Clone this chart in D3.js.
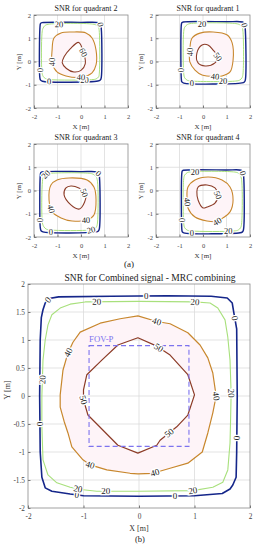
<!DOCTYPE html>
<html>
<head>
<meta charset="utf-8">
<script src="https://cdn.jsdelivr.net/npm/d3@7/dist/d3.min.js"></script>
<style>
  body { margin: 0; background: #fff; }
  text { font-family: "Liberation Serif", "Times New Roman", serif; }
</style>
</head>
<body>
<script>
// ---- tick values ----
var smallTicks = [-2, -1, 0, 1, 2];
var bigXTicks = [-2, -1, 0, 1, 2];
var bigYTicks = [-2, -1.5, -1, -0.5, 0, 0.5, 1, 1.5, 2];

// ---- quadrant 2 contours [x, y] in metres ----
var q2Zero = [[-1.66,1.67],[0.0,1.68],[0.74,1.67],[0.83,1.6],[0.86,1.45],[0.86,-0.7],[0.82,-0.8],[0.72,-0.84],[-1.64,-0.85],[-1.72,-0.8],[-1.75,-0.7],[-1.74,1.55],[-1.72,1.64]];
var q2Twenty = [[-1.4,1.6],[0.5,1.61],[0.66,1.56],[0.75,1.45],[0.78,1.25],[0.78,-0.5],[0.75,-0.66],[0.64,-0.75],[0.45,-0.78],[-1.3,-0.78],[-1.5,-0.74],[-1.61,-0.64],[-1.66,-0.45],[-1.66,1.2],[-1.62,1.42],[-1.54,1.54]];
var q2Forty = [[-1.23,0.49],[-1.15,1.01],[-0.85,1.23],[-0.38,1.27],[0.21,1.23],[0.47,1.01],[0.64,0.49],[0.64,-0.15],[0.47,-0.49],[0.04,-0.67],[-0.64,-0.62],[-1.02,-0.45],[-1.23,-0.06]];
var q2Inner = [[-0.1,0.82],[-0.45,0.55],[-0.72,0.2],[-0.8,-0.05],[-0.62,-0.3],[-0.3,-0.45],[0.0,-0.38],[0.18,-0.1],[0.12,0.35]];
var q2Labels = [[0,0.8,1.58],[0,-1.75,-0.37],[0,-1.36,-0.85],[20,-0.94,1.61],[20,0.15,-0.79],[40,0.0,-0.66],[40,-1.25,-0.02],[60,0.12,0.4]];

// ---- quadrant 1 ----
var q1Zero = [[-0.84,1.7],[1.0,1.71],[1.68,1.7],[1.76,1.64],[1.79,1.5],[1.8,-0.8],[1.76,-0.88],[1.66,-0.92],[-0.82,-0.93],[-0.9,-0.88],[-0.92,-0.78],[-0.92,1.6],[-0.9,1.67]];
var q1Twenty = [[-0.55,1.63],[1.4,1.63],[1.56,1.58],[1.66,1.48],[1.7,1.3],[1.7,-0.55],[1.66,-0.7],[1.56,-0.8],[1.4,-0.84],[-0.5,-0.84],[-0.68,-0.8],[-0.78,-0.7],[-0.82,-0.52],[-0.82,1.3],[-0.78,1.47],[-0.68,1.58]];
var q1Forty = [[-0.56,0.49],[-0.47,1.0],[-0.13,1.22],[0.43,1.27],[1.03,1.14],[1.24,0.8],[1.28,0.06],[1.15,-0.45],[0.81,-0.62],[0.51,-0.64],[-0.04,-0.58],[-0.34,-0.37],[-0.56,-0.02]];
var q1Inner = [[-0.04,0.71],[-0.26,0.36],[-0.21,-0.06],[0.09,-0.19],[0.51,-0.06],[0.64,0.19],[0.43,0.49],[0.21,0.71]];
var q1Labels = [[0,1.72,1.55],[0,-0.92,-0.37],[0,-0.47,-0.9],[20,-0.04,1.63],[20,0.85,-0.84],[40,0.51,-0.63],[40,-0.6,0.41],[50,0.62,0.19]];

// ---- quadrant 3 ----
var q3Zero = [[-1.66,0.8],[0.0,0.81],[0.68,0.8],[0.75,0.74],[0.78,0.62],[0.78,-1.65],[0.74,-1.74],[0.64,-1.78],[-1.62,-1.78],[-1.7,-1.73],[-1.73,-1.62],[-1.73,0.68],[-1.71,0.77]];
var q3Twenty = [[-1.4,0.73],[0.35,0.74],[0.52,0.7],[0.64,0.6],[0.7,0.4],[0.7,-1.4],[0.66,-1.56],[0.56,-1.66],[0.4,-1.7],[-1.3,-1.7],[-1.48,-1.66],[-1.58,-1.56],[-1.64,-1.4],[-1.64,0.4],[-1.6,0.58],[-1.5,0.69]];
var q3Forty = [[-1.36,-0.41],[-1.28,0.24],[-1.02,0.45],[-0.51,0.54],[0.26,0.45],[0.55,0.15],[0.64,-0.41],[0.55,-1.05],[0.26,-1.27],[-0.38,-1.31],[-0.85,-1.18],[-1.23,-0.92]];
var q3Inner = [[-0.43,0.19],[-0.09,0.11],[0.13,-0.06],[0.21,-0.28],[0.04,-0.71],[-0.09,-0.8],[-0.43,-0.62],[-0.72,-0.19],[-0.64,0.11]];
var q3Labels = [[0,0.77,0.75],[0,-1.73,-1.27],[0,-1.28,-1.78],[20,-1.5,0.69],[20,0.43,-1.7],[40,0.21,-1.27],[40,-1.3,-0.8],[50,0.13,-0.1]];

// ---- quadrant 4 ----
var q4Zero = [[-0.84,0.87],[1.0,0.88],[1.62,0.87],[1.69,0.8],[1.72,0.7],[1.72,-1.7],[1.68,-1.78],[1.58,-1.82],[-0.82,-1.82],[-0.88,-1.78],[-0.9,-1.68],[-0.9,0.76],[-0.88,0.84]];
var q4Twenty = [[-0.55,0.8],[1.3,0.8],[1.48,0.76],[1.58,0.66],[1.64,0.48],[1.64,-1.45],[1.6,-1.6],[1.5,-1.7],[1.32,-1.74],[-0.5,-1.74],[-0.68,-1.7],[-0.78,-1.6],[-0.82,-1.42],[-0.82,0.5],[-0.78,0.66],[-0.68,0.76]];
var q4Forty = [[-0.68,-0.32],[-0.64,0.15],[-0.34,0.45],[0.21,0.58],[0.81,0.45],[1.15,0.15],[1.28,-0.41],[1.15,-0.92],[0.85,-1.18],[0.6,-1.33],[0.17,-1.31],[-0.34,-1.14],[-0.64,-0.75]];
var q4Inner = [[-0.21,0.15],[0.17,0.24],[0.51,0.11],[0.64,-0.19],[0.51,-0.54],[0.17,-0.71],[0,-0.75],[-0.21,-0.41],[-0.26,-0.06]];
var q4Labels = [[0,1.71,0.75],[0,-0.9,-1.27],[0,-0.47,-1.82],[20,-0.34,0.8],[20,1.07,-1.74],[40,0.6,-1.33],[40,-0.66,-0.49],[50,0.64,-0.19]];

// ---- combined (MRC) contours ----
var mrcZero = [[-1.62,1.74],[-1.45,1.77],[-0.5,1.78],[0.5,1.79],[1.3,1.78],[1.59,1.75],[1.68,1.66],[1.71,1.48],[1.76,1.2],[1.77,0],[1.76,-1.0],[1.75,-1.45],[1.69,-1.59],[1.64,-1.66],[1.5,-1.74],[1.0,-1.78],[0,-1.79],[-1.0,-1.78],[-1.24,-1.75],[-1.57,-1.7],[-1.69,-1.64],[-1.75,-1.45],[-1.78,-1.0],[-1.79,0],[-1.78,1.0],[-1.76,1.4],[-1.73,1.54],[-1.69,1.66]];
var mrcTwenty = [[-1.42,1.57],[-1.24,1.64],[-0.97,1.68],[0,1.69],[1.0,1.68],[1.28,1.66],[1.42,1.57],[1.55,1.36],[1.6,1.05],[1.64,0.64],[1.66,0.05],[1.65,-0.43],[1.64,-0.84],[1.6,-1.32],[1.51,-1.54],[1.33,-1.63],[0.97,-1.69],[0,-1.7],[-0.76,-1.7],[-1.05,-1.67],[-1.24,-1.63],[-1.48,-1.55],[-1.64,-1.41],[-1.73,-1.14],[-1.75,-0.55],[-1.75,0.0],[-1.73,0.64],[-1.69,1.0],[-1.64,1.27],[-1.57,1.45]];
var mrcForty = [[-1.06,1.14],[-0.7,1.3],[-0.34,1.38],[-0.02,1.43],[0.32,1.33],[0.56,1.29],[0.88,1.13],[1.1,0.91],[1.24,0.68],[1.33,0.41],[1.39,0],[1.33,-0.3],[1.24,-0.66],[1.14,-1.0],[0.88,-1.2],[0.56,-1.29],[0.25,-1.38],[-0.02,-1.39],[-0.16,-1.38],[-0.58,-1.32],[-0.88,-1.23],[-1.01,-1.14],[-1.21,-0.91],[-1.28,-0.66],[-1.35,-0.45],[-1.42,-0.2],[-1.42,0.02],[-1.37,0.46],[-1.28,0.77],[-1.19,0.96]];
var mrcFifty = [[-0.02,1.04],[0.3,0.9],[0.56,0.73],[0.88,0.38],[1.0,0.02],[0.88,-0.34],[0.68,-0.55],[0.38,-0.79],[0.32,-0.88],[-0.02,-1.02],[-0.38,-0.88],[-0.92,-0.34],[-1.0,-0.07],[-1.0,0.11],[-0.94,0.38],[-0.67,0.64],[-0.38,0.91]];
var mrcLabels = [[0,-1.62,1.7],[0,0.13,1.79],[0,1.73,1.39],[0,-1.79,-0.5],[0,-1.12,-1.78],[0,0.65,-1.79],[0,1.77,-0.75],
                 [20,-0.76,1.69],[20,1.01,1.68],[20,-1.73,0.29],[20,1.66,0.05],[20,-1.1,-1.66],[20,-0.6,-1.7],[20,0.97,-1.69],
                 [40,-1.26,0.77],[40,0.32,1.33],[40,1.39,0],[40,-0.88,-1.23],[40,0.29,-1.38],
                 [50,0.34,0.84],[50,-1.0,-0.07],[50,0.56,-0.68]];
var fovX = [-0.9, 0.9];
var fovY = [-0.9, 0.9];

var levelColor = { 0: "#15268a", 20: "#a8e07c", 40: "#c8872d", 50: "#8c3b27", 60: "#8c3b27" };
var levelWidth = { 0: 1.6, 20: 1.1, 40: 1.2, 50: 1.2, 60: 1.2 };

var svg = d3.select("body").append("svg")
    .attr("width", 260)
    .attr("height", 550);

// nearest point on a closed polyline (pixel space) and local direction
function snapLabel(pts, p, x, y) {
    var px = x(p[0]), py = y(p[1]), best = null;
    for (var i = 0; i < pts.length; i++) {
        var a = pts[i], b = pts[(i + 1) % pts.length];
        var ax = x(a[0]), ay = y(a[1]), bx = x(b[0]), by = y(b[1]);
        var dx = bx - ax, dy = by - ay, len = dx * dx + dy * dy;
        var t = len ? Math.max(0, Math.min(1, ((px - ax) * dx + (py - ay) * dy) / len)) : 0;
        var qx = ax + t * dx, qy = ay + t * dy;
        var dist = (qx - px) * (qx - px) + (qy - py) * (qy - py);
        if (!best || dist < best.d) best = { d: dist, x: qx, y: qy, a: Math.atan2(dy, dx) * 180 / Math.PI };
    }
    if (best.a > 90) best.a -= 180;
    if (best.a < -90) best.a += 180;
    return best;
}

function drawPanel(cfg) {
    var x = d3.scaleLinear().domain([-2, 2]).range([cfg.left, cfg.right]);
    var y = d3.scaleLinear().domain([-2, 2]).range([cfg.bottom, cfg.top]);
    var g = svg.append("g");

    // Grid:
    g.selectAll(".gx").data(cfg.xTicks.slice(1, -1)).enter().append("line")
        .attr("x1", function (d) { return x(d); }).attr("x2", function (d) { return x(d); })
        .attr("y1", cfg.top).attr("y2", cfg.bottom)
        .attr("stroke", "#dcdcdc").attr("stroke-width", 0.8);
    g.selectAll(".gy").data(cfg.yTicks.slice(1, -1)).enter().append("line")
        .attr("y1", function (d) { return y(d); }).attr("y2", function (d) { return y(d); })
        .attr("x1", cfg.left).attr("x2", cfg.right)
        .attr("stroke", "#dcdcdc").attr("stroke-width", 0.8);

    var line = d3.line()
        .x(function (d) { return x(d[0]); })
        .y(function (d) { return y(d[1]); })
        .curve(cfg.smooth ? d3.curveCatmullRomClosed : d3.curveLinearClosed);

    // very faint pink band between the two inner levels
    g.append("path")
        .attr("d", line(cfg.contours[2].pts) + line(cfg.contours[3].pts))
        .attr("fill-rule", "evenodd")
        .attr("fill", "#fef4f8");

    // Contours:
    g.selectAll(".contour").data(cfg.contours).enter().append("path")
        .attr("d", function (d) { return line(d.pts); })
        .attr("fill", "none")
        .attr("stroke", function (d) { return levelColor[d.level]; })
        .attr("stroke-width", function (d) { return levelWidth[d.level] * (cfg.smooth ? 0.9 : 1); })
        .attr("stroke-linejoin", "round");

    // FOV rectangle (combined plot only)
    if (cfg.fov) {
        g.append("rect")
            .attr("x", x(fovX[0])).attr("y", y(fovY[1]))
            .attr("width", x(fovX[1]) - x(fovX[0]))
            .attr("height", y(fovY[0]) - y(fovY[1]))
            .attr("fill", "none")
            .attr("stroke", "#7d73ee")
            .attr("stroke-width", 1.1)
            .attr("stroke-dasharray", "5,3");
        g.append("text")
            .attr("x", x(fovX[0]))
            .attr("y", y(fovY[1]) - 3.5)
            .attr("font-size", "8.7px")
            .attr("fill", "#7d73ee")
            .text("FOV-P");
    }

    // Contour labels:
    var byLevel = {};
    cfg.contours.forEach(function (c) { byLevel[c.level] = c.pts; });
    cfg.labels.forEach(function (l) {
        var s = snapLabel(byLevel[l[0]], [l[1], l[2]], x, y);
        g.append("text")
            .attr("transform", "translate(" + s.x + "," + s.y + ") rotate(" + s.a + ")")
            .attr("text-anchor", "middle")
            .attr("dominant-baseline", "central")
            .attr("font-size", cfg.labelSize + "px")
            .attr("fill", "#222")
            .attr("stroke", "#fff")
            .attr("stroke-width", 2.6)
            .attr("paint-order", "stroke")
            .text(l[0]);
    });

    // Box:
    g.append("rect")
        .attr("x", cfg.left).attr("y", cfg.top)
        .attr("width", cfg.right - cfg.left).attr("height", cfg.bottom - cfg.top)
        .attr("fill", "none").attr("stroke", "#8a8a8a").attr("stroke-width", 0.8);

    // Bottom Axis:
    var ax = g.append("g")
        .attr("transform", "translate(0," + cfg.bottom + ")")
        .call(d3.axisBottom(x).tickValues(cfg.xTicks).tickSize(-2.5).tickPadding(cfg.pad)
            .tickFormat(function (d) { return String(d); }));
    // Left Axis:
    var ay = g.append("g")
        .attr("transform", "translate(" + cfg.left + ",0)")
        .call(d3.axisLeft(y).tickValues(cfg.yTicks).tickSize(-2.5).tickPadding(3)
            .tickFormat(function (d) { return String(d); }));
    [ax, ay].forEach(function (a) {
        a.select(".domain").remove();
        a.selectAll("line").attr("stroke", "#777");
        a.selectAll("text").attr("font-size", cfg.tickSize + "px").attr("fill", "#444")
            .style("font-family", "'Liberation Serif', serif");
    });

    // Titles and axis labels:
    g.append("text")
        .attr("x", cfg.titleX).attr("y", cfg.titleY)
        .attr("text-anchor", "middle")
        .attr("font-size", cfg.titleSize + "px")
        .attr("fill", "#222")
        .text(cfg.title);
    g.append("text")
        .attr("x", (cfg.left + cfg.right) / 2).attr("y", cfg.xLabelY)
        .attr("text-anchor", "middle")
        .attr("font-size", cfg.axisLabelSize + "px")
        .attr("fill", "#333")
        .text("X [m]");
    g.append("text")
        .attr("transform", "translate(" + cfg.yLabelX + "," + cfg.yLabelY + ") rotate(-90)")
        .attr("text-anchor", "middle")
        .attr("font-size", cfg.axisLabelSize + "px")
        .attr("fill", "#333")
        .text("Y [m]");
}

function quad(title, left, top, sets, labels) {
    return {
        title: title, left: left, right: left + 94, top: top, bottom: top + 93,
        xTicks: smallTicks, yTicks: smallTicks, smooth: true, pad: 6,
        titleX: left + 52, titleY: top - 4, titleSize: 8,
        xLabelY: top + 114, yLabelX: left - 13, yLabelY: top + 47,
        tickSize: 6.5, axisLabelSize: 7, labelSize: 8.5,
        contours: [
            { level: 0, pts: sets[0] }, { level: 20, pts: sets[1] },
            { level: 40, pts: sets[2] }, { level: labels[labels.length - 1][0], pts: sets[3] }
        ],
        labels: labels
    };
}

drawPanel(quad("SNR for quadrant 2", 34, 15, [q2Zero, q2Twenty, q2Forty, q2Inner], q2Labels));
drawPanel(quad("SNR for quadrant 1", 156, 15, [q1Zero, q1Twenty, q1Forty, q1Inner], q1Labels));
drawPanel(quad("SNR for quadrant 3", 34, 144, [q3Zero, q3Twenty, q3Forty, q3Inner], q3Labels));
drawPanel(quad("SNR for quadrant 4", 156, 144, [q4Zero, q4Twenty, q4Forty, q4Inner], q4Labels));

drawPanel({
    title: "SNR for Combined signal - MRC combining",
    left: 28, right: 250, top: 284, bottom: 508,
    xTicks: bigXTicks, yTicks: bigYTicks, smooth: false, pad: 6,
    titleX: 150, titleY: 281, titleSize: 9.5,
    xLabelY: 531, yLabelX: 10, yLabelY: 390,
    tickSize: 7.3, axisLabelSize: 8, labelSize: 9,
    fov: true,
    contours: [
        { level: 0, pts: mrcZero }, { level: 20, pts: mrcTwenty },
        { level: 40, pts: mrcForty }, { level: 50, pts: mrcFifty }
    ],
    labels: mrcLabels
});

svg.append("text").attr("x", 129).attr("y", 267).attr("text-anchor", "middle")
    .attr("font-size", "9px").attr("fill", "#222").text("(a)");
svg.append("text").attr("x", 140).attr("y", 542).attr("text-anchor", "middle")
    .attr("font-size", "8.5px").attr("fill", "#222").text("(b)");
</script>
</body>
</html>
